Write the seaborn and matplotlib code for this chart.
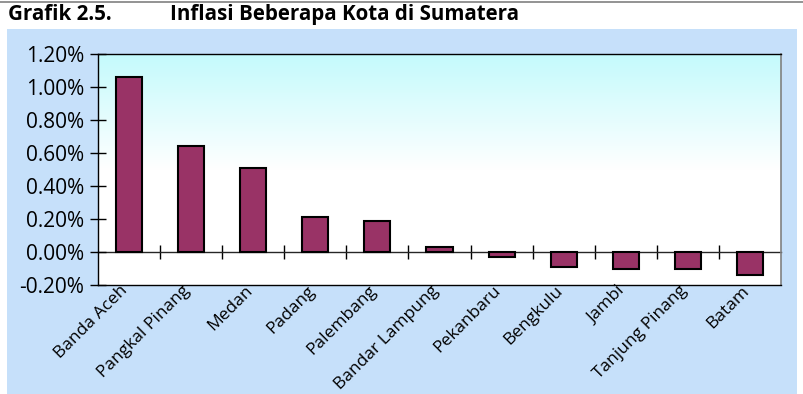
import pandas as pd
import numpy as np
import matplotlib.pyplot as plt
import matplotlib.transforms as mtransforms
import seaborn as sns
from matplotlib.patches import Rectangle
from matplotlib.lines import Line2D
from matplotlib.ticker import PercentFormatter

# Inflation by city (percent)
cities = ['Banda Aceh', 'Pangkal Pinang', 'Medan', 'Padang', 'Palembang',
          'Bandar Lampung', 'Pekanbaru', 'Bengkulu', 'Jambi', 'Tanjung Pinang', 'Batam']
inflation = [1.06, 0.64, 0.51, 0.21, 0.19, 0.03, -0.03, -0.09, -0.10, -0.10, -0.14]
y_ticks = [-0.2, 0.0, 0.2, 0.4, 0.6, 0.8, 1.0, 1.2]

data = pd.DataFrame({'city': cities, 'inflation': inflation})

sns.set_style('white')
plt.rcParams['font.family'] = ['Open Sans', 'DejaVu Sans']
plt.rcParams['text.color'] = 'black'
plt.rcParams['xtick.color'] = 'black'
plt.rcParams['ytick.color'] = 'black'
plt.rcParams['axes.unicode_minus'] = False

fig = plt.figure(figsize=(8.04, 3.94), dpi=100)

# light blue panel behind the chart
fig.patches.append(Rectangle((7 / 804, 0), 790 / 804, 365 / 394,
                             transform=fig.transFigure, facecolor='#C6E0FA',
                             edgecolor='none', zorder=-5))
fig.lines.append(Line2D([0, 1], [0.996, 0.996], transform=fig.transFigure,
                        color='#808080', linewidth=1.2, zorder=-5))

fig.text(8 / 804, 0.962, 'Grafik 2.5.', fontsize=14.8, fontweight='bold', va='center')
fig.text(170 / 804, 0.962, 'Inflasi Beberapa Kota di Sumatera', fontsize=14.8,
         fontweight='bold', va='center')

ax = fig.add_axes([98 / 804, 1 - 285 / 394, 683 / 804, 231 / 394])
ax.set_facecolor('none')

# gradient plot background (cyan at top to white)
grad = np.linspace(0, 1, 256).reshape(-1, 1)
cmap = plt.matplotlib.colors.LinearSegmentedColormap.from_list('bg', ['#FFFFFF', '#FFFFFF', '#C4FAFC'])
ax.imshow(grad, aspect='auto', cmap=cmap, extent=[0, 1, 0, 1], origin='lower',
          transform=ax.transAxes, zorder=-1)

sns.barplot(data=data, x='city', y='inflation', color='#993366', edgecolor='black',
            linewidth=1.5, width=0.42, saturation=1, ax=ax, zorder=3)

ax.set_xlim(-0.5, len(cities) - 0.5)
ax.set_ylim(-0.2, 1.2)
ax.set_yticks(y_ticks)
ax.yaxis.set_major_formatter(PercentFormatter(decimals=2))
ax.set_xlabel('')
ax.set_ylabel('')

ax.tick_params(axis='y', left=True, direction='inout', length=12, width=1,
               color='black', labelsize=15, pad=4)
ax.tick_params(axis='x', bottom=False, labelsize=12.5, pad=0)
shift = mtransforms.ScaledTranslation(-0.09, 0.07, fig.dpi_scale_trans)
for lab in ax.get_xticklabels():
    lab.set_rotation(45)
    lab.set_ha('right')
    lab.set_rotation_mode('anchor')
    lab.set_transform(lab.get_transform() + shift)

for side in ['left', 'bottom', 'top']:
    ax.spines[side].set_color('black')
    ax.spines[side].set_linewidth(1)
ax.spines['right'].set_color('#808080')
ax.spines['right'].set_linewidth(1.2)

# zero axis with category separator ticks
zero_ax = ax.secondary_xaxis(0.2 / 1.4)
zero_ax.set_xticks(np.arange(len(cities) - 1) + 0.5)
zero_ax.tick_params(axis='x', direction='inout', length=10, width=1, labelbottom=False)
zero_ax.spines['bottom'].set_linewidth(1)

plt.savefig('out.png', dpi=100)
